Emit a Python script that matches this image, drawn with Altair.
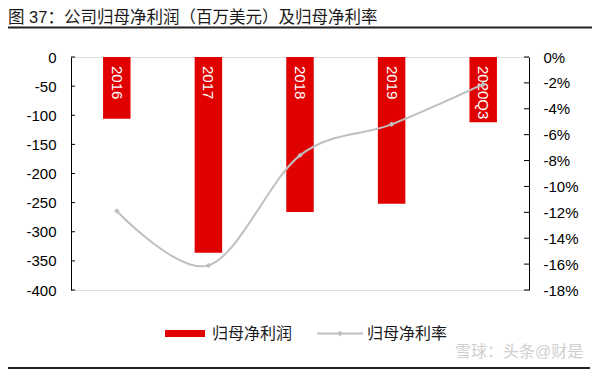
import altair as alt
import pandas as pd

# ---- data ----
categories = ["2016", "2017", "2018", "2019", "2020Q3"]
net_profit = [-106, -336, -266, -252, -112]          # 百万美元
net_margin = [-11.9, -16.1, -7.6, -5.2, -2.1]        # %
left_ticks = [0, -50, -100, -150, -200, -250, -300, -350, -400]
right_ticks = [0, -2, -4, -6, -8, -10, -12, -14, -16, -18]
series_names = ["归母净利润", "归母净利率"]
title_text = "图 37：公司归母净利润（百万美元）及归母净利率"
watermark_text = "雪球：头条@财是"

W, H = 458, 233
LATIN = "Liberation Sans"
CJK = "Liberation Sans, Noto Sans CJK SC"
RED = "#E00000"
GREY = "#BFBFBF"

df = pd.DataFrame({"cat": categories, "profit": net_profit, "margin": net_margin})
df_lt = pd.DataFrame({"v": left_ticks})
df_rt = pd.DataFrame({"v": right_ticks})
df_one = pd.DataFrame({"t": [title_text], "s1": [series_names[0]], "s2": [series_names[1]], "w": [watermark_text]})

xscale = alt.Scale(paddingInner=0, paddingOuter=0)
xenc = alt.X(
    "cat:N", sort=categories, scale=xscale,
    axis=alt.Axis(orient="top", labels=False, title=None, tickSize=5, bandPosition=0,
                  domainColor="#000", tickColor="#000", grid=False),
)
xenc_noaxis = alt.X("cat:N", sort=categories, scale=xscale, axis=None)

left_scale = alt.Scale(domain=[-400, 0], nice=False, zero=False)
right_scale = alt.Scale(domain=[-18, 0], nice=False, zero=False)

bars = alt.Chart(df).mark_bar(color=RED, width=alt.RelativeBandSize(0.3)).encode(
    x=xenc,
    y=alt.Y("profit:Q", scale=left_scale,
            axis=alt.Axis(orient="left", values=left_ticks, ticks=False, labelPadding=15,
                          labelExpr="'' + datum.value", labelFontSize=15, labelFont=LATIN,
                          labelColor="#000", domainColor="#000", grid=False, title=None)),
)

bar_labels = alt.Chart(df).mark_text(
    angle=90, align="left", baseline="middle", color="white", fontSize=15, font=LATIN
).encode(x=xenc_noaxis, y=alt.value(9), text="cat:N")

left_tk = alt.Chart(df_lt).mark_rule(color="#000").encode(
    y=alt.Y("v:Q", scale=left_scale, axis=None), x=alt.value(0), x2=alt.value(4)
)

line = alt.Chart(df).mark_line(color=GREY, strokeWidth=2, interpolate="cardinal").encode(
    x=xenc_noaxis,
    y=alt.Y("margin:Q", scale=right_scale,
            axis=alt.Axis(orient="right", values=right_ticks, ticks=False, labelPadding=14,
                          labelExpr="datum.value + '%'", labelFontSize=15, labelFont=LATIN,
                          labelColor="#000", domainColor="#000", grid=False, title=None)),
)
pts = alt.Chart(df).mark_point(shape="diamond", filled=True, size=30, color=GREY, opacity=1).encode(
    x=xenc_noaxis, y=alt.Y("margin:Q", scale=right_scale, axis=None)
)
right_tk = alt.Chart(df_rt).mark_rule(color="#000").encode(
    y=alt.Y("v:Q", scale=right_scale, axis=None), x=alt.value(W - 5), x2=alt.value(W)
)

# ---- title, legend, frame lines ----
title = alt.Chart(df_one).mark_text(align="left", baseline="middle", fontSize=16.5, font=CJK, color="#1a1a1a").encode(
    x=alt.value(-63), y=alt.value(-39.5), text="t:N")
underline = alt.Chart(df_one).mark_rule(color="#222", strokeWidth=2).encode(
    x=alt.value(-63), x2=alt.value(525), y=alt.value(-29.5))
bottomline = alt.Chart(df_one).mark_rule(color="#222", strokeWidth=2).encode(
    x=alt.value(-63), x2=alt.value(519), y=alt.value(311))

leg_rect = alt.Chart(df_one).mark_rect(color=RED).encode(
    x=alt.value(94), x2=alt.value(134), y=alt.value(273), y2=alt.value(280))
leg_t1 = alt.Chart(df_one).mark_text(align="left", baseline="middle", fontSize=16, font=CJK, color="#1a1a1a").encode(
    x=alt.value(141), y=alt.value(276.5), text="s1:N")
leg_line = alt.Chart(df_one).mark_rule(color=GREY, strokeWidth=2).encode(
    x=alt.value(246), x2=alt.value(292), y=alt.value(276.5))
leg_pt = alt.Chart(df_one).mark_point(shape="diamond", filled=True, size=30, color=GREY, opacity=1).encode(
    x=alt.value(269), y=alt.value(276.5))
leg_t2 = alt.Chart(df_one).mark_text(align="left", baseline="middle", fontSize=16, font=CJK, color="#1a1a1a").encode(
    x=alt.value(296), y=alt.value(276.5), text="s2:N")
wm = alt.Chart(df_one).mark_text(align="left", baseline="middle", fontSize=16, font=CJK, color="#CFCFCF").encode(
    x=alt.value(384), y=alt.value(295), text="w:N")

chart = alt.layer(
    bars, bar_labels, left_tk, line, pts, right_tk,
    title, underline, bottomline, leg_rect, leg_t1, leg_line, leg_pt, leg_t2, wm,
).resolve_scale(y="independent").properties(
    width=W, height=H,
    autosize=alt.AutoSizeParams(type="none"),
    padding={"left": 63, "top": 49, "right": 63, "bottom": 80},
).configure_view(stroke=None).configure(background="white")

chart.save("out.html", embed_options={"renderer": "svg", "actions": False})
